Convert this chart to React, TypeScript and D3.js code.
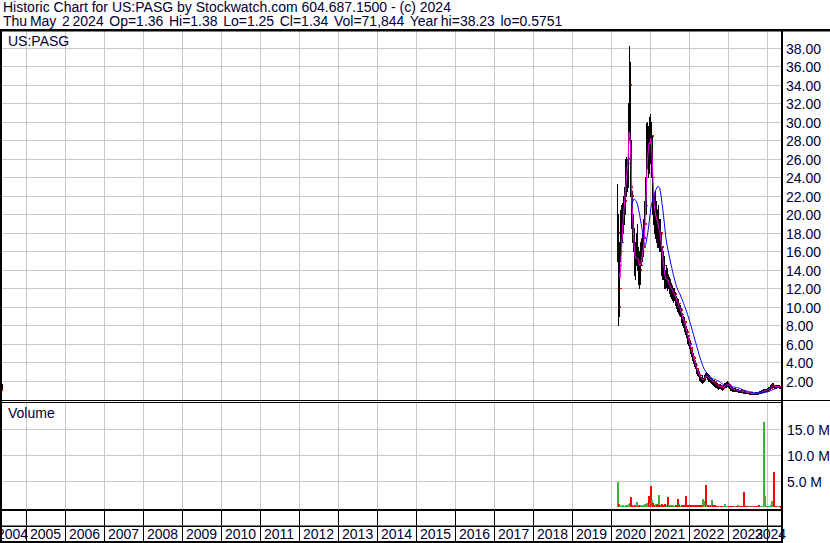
import React from "react";
import * as d3 from "d3";

const W = 830;
const H = 543;

const titleLine1 = "Historic Chart for US:PASG by Stockwatch.com 604.687.1500 - (c) 2024";
const titleLine2 = "Thu May  2 2024  Op=1.36  Hi=1.38  Lo=1.25  Cl=1.34  Vol=71,844  Year hi=38.23  lo=0.5751";
const symbolLabel = "US:PASG";
const volumeLabel = "Volume";

const yearLabels = ["2004", "2005", "2006", "2007", "2008", "2009", "2010", "2011", "2012", "2013", "2014", "2015", "2016", "2017", "2018", "2019", "2020", "2021", "2022", "2023", "2024"];
const priceTicks = [2, 4, 6, 8, 10, 12, 14, 16, 18, 20, 22, 24, 26, 28, 30, 32, 34, 36, 38];
const volumeTicks = [5, 10, 15];
const volumeTickLabels = ["5.0 M", "10.0 M", "15.0 M"];

// one stray early print
const strayDate = "2004-05-21";
const strayHigh = 1.7;
const strayLow = 1.0;
const strayClose = 1.0;

// weekly bars starting with the IPO week
const firstWeek = "2020-02-28";

const weeklyClose = [
  18, 10, 12, 14.5, 16, 17, 19, 20, 21, 21.5,
  23, 24.5, 25, 25.5, 26, 30, 34, 23, 22, 20,
  18, 16.5, 16, 15, 14.5, 15.5, 16, 15, 14.5, 14,
  14.5, 15, 15.5, 16, 16.5, 17.5, 19, 21, 24, 27,
  28.5, 26, 27.5, 29, 28, 28.5, 24, 22, 21, 20,
  19.5, 20.5, 19, 18.5, 19.5, 18, 17.5, 18, 16.5, 15.5,
  15, 14.5, 13.5, 13, 12.5, 13.5, 13, 12.5, 12.8, 12.2,
  12, 12.3, 11.8, 11.5, 11.7, 11.2, 11.4, 10.9, 10.8, 10.5,
  10.2, 10.4, 9.9, 9.6, 9.7, 9.2, 9, 8.6, 8.3, 8.4,
  7.9, 7.5, 7.3, 6.9, 6.5, 6.4, 6, 5.6, 5.4, 5,
  4.7, 4.5, 4.2, 3.9, 3.7, 3.4, 3.2, 3, 2.7, 2.6,
  2.4, 2.2, 2.1, 2.3, 2.0, 2.1, 2.4, 2.6, 2.5, 2.7,
  2.4, 2.3, 2.2, 2.3, 2.1, 2.0, 2.1, 1.9, 1.8, 1.9,
  1.7, 1.6, 1.5, 1.6, 1.4, 1.3, 1.4, 1.5, 1.4, 1.3,
  1.2, 1.3, 1.4, 1.5, 1.6, 1.5, 1.6, 1.7, 1.6, 1.5,
  1.3, 1.2, 1.15, 1.2, 1.1, 1.05, 1.1, 1.0, 1.05, 0.98,
  1.0, 0.95, 1.0, 0.93, 0.9, 0.95, 0.88, 0.85, 0.82, 0.85,
  0.8, 0.78, 0.8, 0.75, 0.72, 0.74, 0.7, 0.68, 0.7, 0.66,
  0.65, 0.68, 0.64, 0.62, 0.65, 0.68, 0.66, 0.7, 0.72, 0.7,
  0.75, 0.78, 0.8, 0.85, 0.88, 0.95, 0.92, 0.98, 1.0, 0.97,
  1.02, 1.08, 1.12, 1.2, 1.28, 1.35, 1.45, 1.55, 1.5, 1.42,
  1.4, 1.35, 1.4, 1.38, 1.42, 1.45, 1.4, 1.36, 1.34,
];

const weeklyHigh = [
  23.3, 20, 16, 17, 20.5, 21, 21.2, 21, 22, 23,
  24.5, 26, 26.2, 26, 27.5, 32, 38.23, 36.5, 28, 24,
  22.5, 20, 18.5, 17.5, 17, 18, 19, 18, 16.5, 16,
  16.5, 17, 17.5, 18, 18.5, 19.5, 21.5, 24, 26, 29.9,
  30, 29.5, 29.8, 30.5, 30.9, 30, 28.5, 24.5, 23, 22,
  21.5, 22.5, 21.5, 20.5, 21, 20.5, 19.5, 19.5, 18, 17.5,
  16.5, 16, 15.5, 14.5, 14, 14.5, 14.2, 13.7, 13.5, 13.2,
  12.8, 13, 12.6, 12.2, 12.3, 12, 12.1, 11.6, 11.4, 11.2,
  11, 10.9, 10.6, 10.3, 10.2, 9.9, 9.6, 9.4, 9, 8.9,
  8.6, 8.2, 7.9, 7.6, 7.2, 7, 6.6, 6.3, 5.9, 5.6,
  5.3, 5, 4.8, 4.4, 4.2, 3.9, 3.6, 3.4, 3.2, 3,
  2.8, 2.6, 2.4, 2.6, 2.4, 2.3, 2.6, 2.9, 2.8, 3.0,
  2.9, 2.6, 2.5, 2.6, 2.4, 2.3, 2.3, 2.2, 2.1, 2.1,
  2.0, 1.9, 1.8, 1.8, 1.7, 1.6, 1.6, 1.7, 1.6, 1.5,
  1.4, 1.5, 1.6, 1.75, 1.8, 1.75, 1.85, 1.95, 1.9, 1.7,
  1.6, 1.4, 1.35, 1.35, 1.3, 1.25, 1.25, 1.2, 1.2, 1.15,
  1.15, 1.1, 1.12, 1.08, 1.05, 1.1, 1.02, 1.0, 0.95, 0.98,
  0.93, 0.9, 0.92, 0.88, 0.85, 0.86, 0.82, 0.8, 0.8, 0.78,
  0.76, 0.78, 0.75, 0.72, 0.75, 0.8, 0.78, 0.82, 0.86, 0.82,
  0.88, 0.92, 0.95, 1.0, 1.02, 1.15, 1.08, 1.15, 1.15, 1.12,
  1.18, 1.25, 1.3, 1.38, 1.45, 1.55, 1.65, 1.78, 1.82, 1.6,
  1.55, 1.5, 1.55, 1.5, 1.55, 1.6, 1.55, 1.5, 1.38,
];

const weeklyLow = [
  15, 8.05, 9, 11, 15, 16, 17, 17.5, 18, 19,
  20, 21, 22, 22.5, 23, 25, 28, 22, 20, 18.5,
  17, 16, 15, 13.5, 13, 14.5, 15.5, 14, 12.5, 12,
  12.5, 14, 14.5, 15, 15.5, 16, 17.5, 20, 20, 23.5,
  25, 24, 24.5, 26, 25.5, 24, 22, 20, 19, 18,
  17.5, 18.5, 17, 16.5, 17.5, 16.5, 16, 16, 15, 13.5,
  13, 13, 12.5, 12, 12, 12.2, 12.3, 11.8, 12, 11.5,
  11.2, 11.5, 11, 10.8, 11, 10.5, 10.7, 10.3, 10.2, 9.9,
  9.6, 9.7, 9.3, 9.1, 9, 8.7, 8.4, 8.1, 7.8, 7.8,
  7.4, 7.1, 6.8, 6.5, 6.1, 5.9, 5.6, 5.3, 5, 4.7,
  4.3, 4.1, 3.9, 3.6, 3.4, 3.1, 2.9, 2.7, 2.5, 2.3,
  2.1, 2.0, 1.9, 2.0, 1.8, 1.9, 2.0, 2.2, 2.3, 2.4,
  2.2, 2.1, 2.0, 2.0, 1.9, 1.8, 1.9, 1.7, 1.6, 1.7,
  1.5, 1.4, 1.3, 1.4, 1.2, 1.1, 1.2, 1.3, 1.2, 1.1,
  1.05, 1.1, 1.2, 1.3, 1.4, 1.3, 1.4, 1.45, 1.4, 1.3,
  1.2, 1.05, 1.0, 1.05, 0.95, 0.95, 0.95, 0.9, 0.92, 0.88,
  0.9, 0.85, 0.88, 0.84, 0.8, 0.85, 0.8, 0.76, 0.74, 0.76,
  0.72, 0.7, 0.72, 0.68, 0.65, 0.66, 0.63, 0.62, 0.63, 0.6,
  0.59, 0.61, 0.58, 0.5751, 0.59, 0.62, 0.62, 0.64, 0.67, 0.64,
  0.7, 0.72, 0.75, 0.8, 0.82, 0.85, 0.86, 0.9, 0.92, 0.9,
  0.95, 1.0, 1.05, 1.1, 1.18, 1.25, 1.3, 1.4, 1.35, 1.3,
  1.25, 1.2, 1.25, 1.25, 1.3, 1.3, 1.28, 1.25, 1.25,
];

// millions of shares
const weeklyVolume = [
  4.9, 0.6, 0.3, 0.2, 0.25, 0.2, 0.3, 0.15, 0.25, 0.2,
  0.3, 0.4, 0.2, 0.3, 0.35, 0.6, 0.8, 2.0, 0.4, 0.3,
  0.25, 0.2, 0.3, 0.2, 0.35, 1.0, 0.3, 0.2, 0.25, 0.3,
  0.2, 0.4, 0.15, 0.3, 0.2, 0.35, 0.5, 0.6, 0.4, 0.7,
  0.5, 2.1, 0.6, 0.8, 4.0, 1.3, 0.7, 0.5, 0.3, 0.4,
  0.3, 0.5, 0.4, 0.6, 2.3, 0.3, 0.4, 0.2, 0.6, 0.3,
  0.25, 0.3, 0.2, 0.5, 0.3, 0.2, 0.35, 1.9, 0.3, 0.25,
  0.2, 0.3, 0.25, 0.15, 0.3, 0.2, 0.25, 0.3, 0.2, 0.35,
  1.6, 0.5, 0.3, 0.2, 0.25, 0.3, 0.2, 0.35, 0.3, 0.25,
  0.4, 2.1, 0.3, 0.35, 0.2, 0.4, 0.3, 0.25, 0.35, 0.3,
  0.4, 0.3, 0.2, 0.35, 0.3, 0.45, 0.3, 0.25, 0.3, 0.2,
  0.35, 0.25, 0.3, 1.5, 0.4, 1.1, 0.3, 0.5, 4.2, 0.4,
  0.3, 0.25, 0.2, 0.35, 0.3, 0.2, 1.3, 0.3, 0.25, 0.3,
  0.4, 0.2, 0.15, 0.2, 0.25, 0.15, 0.2, 0.1, 0.15, 0.2,
  0.1, 0.15, 0.2, 0.5, 0.15, 0.1, 0.2, 0.15, 0.1, 0.15,
  0.1, 0.15, 0.1, 0.1, 0.15, 0.1, 0.2, 0.1, 0.15, 0.1,
  0.4, 0.1, 0.15, 0.1, 0.15, 0.1, 0.1, 0.15, 2.9, 0.4,
  0.15, 0.1, 0.2, 0.1, 0.15, 0.1, 0.2, 0.1, 0.15, 0.1,
  0.1, 0.15, 0.1, 0.2, 0.1, 0.15, 0.1, 0.2, 0.1, 0.4,
  0.15, 0.2, 0.1, 0.15, 0.2, 16.3, 0.3, 2.1, 0.2, 0.15,
  0.2, 0.15, 0.25, 0.2, 0.3, 0.2, 1.2, 0.3, 6.8, 0.3,
  0.2, 0.15, 0.2, 0.2, 0.25, 0.15, 0.2, 0.15, 0.07,
];

const FONT = "'Liberation Sans', Arial, sans-serif";
const TEXT = "#000033";
const GRID = "#c8c8c8";

export default function App() {
  const parse = d3.timeParse("%Y-%m-%d");
  const start = parse(firstWeek) as Date;
  const dates = weeklyClose.map((_, i) => d3.timeDay.offset(start, 7 * i));

  const x = d3
    .scaleTime()
    .domain([new Date(2005, 0, 1), new Date(2024, 0, 1)])
    .range([26, 767]);
  const yP = d3.scaleLinear().domain([0, 39.6]).range([399.5, 33]);
  const yV = d3.scaleLinear().domain([0, 20]).range([507, 403]);

  const px = (d: Date) => Math.round(x(d)) + 0.5;

  const movingAvg = (n: number) =>
    weeklyClose.map((_, i) => (i < n - 1 ? null : (d3.mean(weeklyClose.slice(i - n + 1, i + 1)) as number)));
  const maShort = movingAvg(4);
  const maLong = movingAvg(20);

  const lineGen = d3
    .line<number | null>()
    .defined((v) => v !== null)
    .x((_, i) => x(dates[i]))
    .y((v) => yP(v as number));

  const yearBounds = yearLabels.map((y) => x(new Date(+y, 0, 1)));

  const strayD = parse(strayDate) as Date;

  return (
    <svg width={W} height={H} style={{ display: "block", position: "absolute", left: 0, top: 0 }} fontFamily={FONT}>
      <rect x={0} y={0} width={W} height={H} fill="#ffffff" />

      {/* grid: price */}
      {priceTicks.map((t) => (
        <line key={"pg" + t} x1={2} x2={781} y1={Math.round(yP(t)) + 0.5} y2={Math.round(yP(t)) + 0.5} stroke={GRID} strokeWidth={1} />
      ))}
      {volumeTicks.map((t) => (
        <line key={"vg" + t} x1={2} x2={781} y1={Math.round(yV(t)) + 0.5} y2={Math.round(yV(t)) + 0.5} stroke={GRID} strokeWidth={1} />
      ))}
      {yearBounds.map((b, i) =>
        b > 2 && b < 781 ? (
          <g key={"yg" + i}>
            <line x1={Math.round(b) + 0.5} x2={Math.round(b) + 0.5} y1={31} y2={400} stroke={GRID} />
            <line x1={Math.round(b) + 0.5} x2={Math.round(b) + 0.5} y1={403} y2={509} stroke={GRID} />
            <line x1={Math.round(b) + 0.5} x2={Math.round(b) + 0.5} y1={510} y2={542} stroke="#000" />
          </g>
        ) : null
      )}

      {/* volume bars */}
      <g shapeRendering="crispEdges">
        {weeklyVolume.map((v, i) => {
          const up = i === 0 || weeklyClose[i] >= weeklyClose[i - 1];
          const top = yV(v);
          return (
            <rect
              key={"v" + i}
              x={Math.round(x(dates[i]))}
              y={top}
              width={1.5}
              height={Math.max(1, yV(0) - top)}
              fill={up ? "#3cb43c" : "#ff0000"}
            />
          );
        })}
      </g>

      {/* price bars */}
      <g shapeRendering="crispEdges">
        <line x1={px(strayD)} x2={px(strayD)} y1={yP(strayHigh)} y2={yP(strayLow)} stroke="#000" />
        <rect x={px(strayD) - 1.5} y={yP(strayClose) - 1} width={2} height={2} fill="#ff0000" />
        {weeklyClose.map((c, i) => (
          <g key={"b" + i}>
            <line x1={px(dates[i])} x2={px(dates[i])} y1={yP(weeklyHigh[i])} y2={yP(weeklyLow[i]) + 1} stroke="#000" strokeWidth={1.3} />
            <rect x={px(dates[i]) + 0.5} y={yP(c) - 0.5} width={2} height={1.5} fill="#ff0000" />
          </g>
        ))}
      </g>

      <path d={lineGen(maShort) || ""} fill="none" stroke="#ff00ff" strokeWidth={1} />
      <path d={lineGen(maLong) || ""} fill="none" stroke="#0000ff" strokeWidth={1} />

      {/* frame */}
      <rect x={0} y={29} width={W} height={2.5} fill="#000" />
      <rect x={0} y={29} width={2} height={H - 29} fill="#000" />
      <rect x={781} y={29} width={2} height={H - 29} fill="#000" />
      <rect x={0} y={400} width={W} height={1} fill="#000" />
      <rect x={0} y={402} width={783} height={1} fill="#000" />
      <rect x={0} y={509} width={783} height={2} fill="#000" />
      <rect x={0} y={525.5} width={783} height={1.5} fill="#000" />
      <rect x={0} y={541} width={783} height={2} fill="#000" />

      {/* titles */}
      <g fill={TEXT} fontSize={14}>
        <text x={3} y={12} xmlSpace="preserve" style={{ whiteSpace: "pre" }}>{titleLine1}</text>
        <text x={3} y={26} xmlSpace="preserve" style={{ whiteSpace: "pre", wordSpacing: "-1.1px" }}>{titleLine2}</text>
        <text x={8} y={46}>{symbolLabel}</text>
        <text x={8} y={418}>{volumeLabel}</text>
      </g>

      {/* right axis */}
      <g fill={TEXT} fontSize={14}>
        {priceTicks.map((t) => (
          <text key={"pl" + t} x={786} y={yP(t) + 6}>
            {t.toFixed(2)}
          </text>
        ))}
        {volumeTicks.map((t, i) => (
          <text key={"vl" + t} x={787} y={yV(t) + 6}>
            {volumeTickLabels[i]}
          </text>
        ))}
      </g>

      {/* year labels */}
      <g fill={TEXT} fontSize={14}>
        {yearLabels.map((lbl, i) => {
          const lx = Math.min(Math.max(yearBounds[i] + 4, -3), 755);
          return (
            <text key={"yl" + lbl} x={lx} y={539}>
              {lbl}
            </text>
          );
        })}
      </g>
      <rect x={0} y={527} width={2} height={16} fill="#000" />
    </svg>
  );
}
